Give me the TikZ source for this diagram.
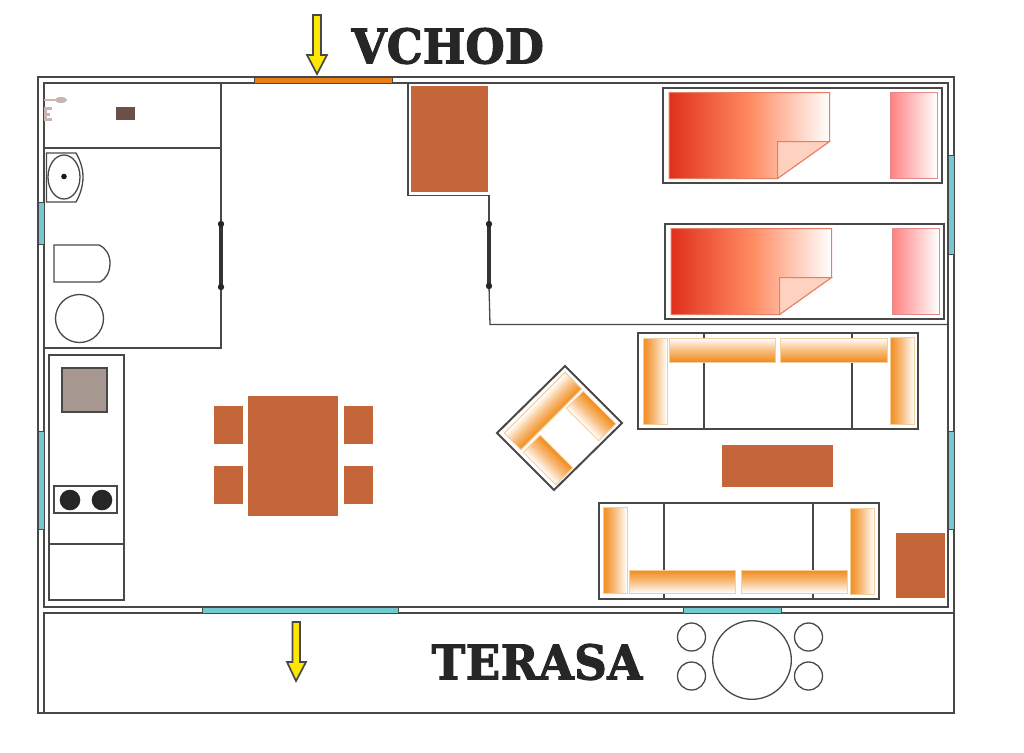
\documentclass[tikz,border=0pt]{standalone}
\usepackage{fontspec}
\newfontfamily\slabfont[FakeBold=2.2, FakeStretch=0.945]{DejaVu Serif}
\definecolor{wallgrey}{HTML}{484848}
\definecolor{woodbrown}{HTML}{C46639}
\definecolor{glasscyan}{HTML}{72C9CF}
\definecolor{padorange}{HTML}{F28A1A}
\definecolor{padedge}{HTML}{F3CFA0}
\definecolor{quiltred}{HTML}{E0301C}
\definecolor{quiltmid}{HTML}{FF8A60}
\definecolor{foldpeach}{HTML}{FFD2BF}
\definecolor{doorsill}{HTML}{E67E14}
\definecolor{sinktone}{HTML}{A69891}
\definecolor{tapstone}{HTML}{C9B5B0}
\definecolor{shelfbrown}{HTML}{6B5048}
\tikzset{
	wall/.style={draw=wallgrey, line width=0.2mm},
	thinwall/.style={draw=wallgrey, line width=0.13mm},
	glass/.style={draw=wallgrey, line width=0.1mm, fill=glasscyan},
	wood/.style={fill=woodbrown},
	pad/.style={draw=padedge, line width=0.1mm},
	armpad/.style={pad, left color=padorange, right color=white, middle color=padorange!55!white},
	seatpadup/.style={pad, top color=white, bottom color=padorange, middle color=padorange!55!white},
	seatpaddown/.style={pad, top color=padorange, bottom color=white, middle color=padorange!55!white},
	quilt/.style={draw=red!45!brown!70, line width=0.1mm, left color=quiltred, right color=white, middle color=quiltmid},
	pillow/.style={draw=red!40!white!90!black, line width=0.1mm, left color=red!50!white, right color=white},
	guidearrow/.style={draw=wallgrey, line width=0.17mm, fill=yellow!90!orange},
	roomlabel/.style={text=black!85, font=\slabfont\bfseries\fontsize{13.6}{15}\selectfont, inner sep=0pt, anchor=west}
}
\def\bedunit(#1,#2){
	\draw[wall] (#1-6, #2-4.5) rectangle (#1+273, #2+90.5);
	\draw[quilt] (#1, #2) -- (#1+160.5, #2) -- (#1+160.5, #2+49) -- (#1+108.5, #2+86) -- (#1, #2+86) -- cycle;
	\draw[draw=red!45!brown!70, line width=0.1mm, fill=foldpeach] (#1+108.5, #2+49) -- (#1+160.5, #2+49) -- (#1+108.5, #2+86) -- cycle;
	\draw[pillow] (#1+221, #2) rectangle (#1+268, #2+86);
}
\def\chairpad[#1](#2,#3)(#4,#5)(#6){\draw[#1, transform canvas={rotate around={#6:(#2,#3)}}] (#2-#4/2, #3-#5/2) rectangle (#2+#4/2, #3+#5/2);}
\begin{document}
\begin{tikzpicture}[x=0.1mm, y=-0.1mm]
	%%%%% START %%%%%
	\useasboundingbox (0, 0) rectangle (1024, 752);

	\draw[wall, line width=0.22mm] (38, 77) rectangle (954, 713);
	\draw[wall] (44, 83) rectangle (948, 607);
	\draw[wall] (44, 613) rectangle (954, 713);

	\draw[wall, line width=0.1mm, fill=doorsill] (254, 77) rectangle (392, 83);
	\draw[glass] (38, 202) rectangle (44, 244);
	\draw[glass] (38, 431) rectangle (44, 529);
	\draw[glass] (948, 155) rectangle (954, 254);
	\draw[glass] (948, 431) rectangle (954, 529);
	\draw[glass] (202, 607) rectangle (398, 613);
	\draw[glass] (683, 607) rectangle (781, 613);

	\draw[wall] (221, 83) -- (221, 348) -- (44, 348);
	\draw[wall] (44, 148) -- (221, 148);
	\draw[line width=0.4mm, color=black!80] (221, 224) -- (221, 287);
	\fill[black!85] (221, 224) circle (3.2);
	\fill[black!85] (221, 287) circle (3.2);

	\draw[line width=0.2mm, color=tapstone] (44, 100) -- (56, 100);
	\fill[tapstone] (61, 100) ellipse (6 and 3);
	\fill[tapstone] (44, 107) rectangle (52, 110);
	\fill[tapstone] (44, 113) rectangle (50, 116);
	\fill[tapstone] (44, 118) rectangle (52, 121);
	\fill[tapstone] (44, 107) rectangle (47, 121);
	\fill[shelfbrown] (116, 107) rectangle (135, 120);

	\draw[thinwall] (46.5, 153) -- (76, 153) .. controls (80, 160) and (83, 168) .. (83, 177) .. controls (83, 186) and (80, 195) .. (76, 202) -- (46.5, 202) -- cycle;
	\draw[thinwall] (64, 177) ellipse (16 and 22);
	\fill[black!90] (64, 176.5) circle (2.8);
	\draw[thinwall] (54, 245) -- (99, 245) .. controls (106, 248) and (110, 255) .. (110, 263) .. controls (110, 272) and (106, 279) .. (100, 282) -- (54, 282) -- cycle;
	\draw[thinwall] (79.5, 318.5) circle (24);

	\draw[wall] (49, 355) rectangle (124, 600);
	\draw[thinwall] (49, 544) -- (124, 544);
	\draw[wall, fill=sinktone] (62, 368) rectangle (107, 412);
	\draw[thinwall] (54, 486) rectangle (117, 513);
	\fill[black!85] (70, 500) circle (10.3);
	\fill[black!85] (102, 500) circle (10.3);

	\fill[wood] (248, 396) rectangle (338, 516);
	\fill[wood] (214, 406) rectangle (243, 444);
	\fill[wood] (214, 466) rectangle (243, 504);
	\fill[wood] (344, 406) rectangle (373, 444);
	\fill[wood] (344, 466) rectangle (373, 504);

	\fill[wood] (411, 86) rectangle (488, 192);
	\draw[thinwall] (408, 83) -- (408, 195.5) -- (489, 195.5) -- (489, 224);
	\draw[thinwall] (489, 286) -- (490, 324.5) -- (948, 324.5);
	\draw[line width=0.4mm, color=black!80] (489, 224) -- (489, 286);
	\fill[black!85] (489, 224) circle (3.2);
	\fill[black!85] (489, 286) circle (3.2);

	\bedunit(669, 92.5)
	\bedunit(671, 228.5)

	\draw[wall] (638, 333) rectangle (918, 429);
	\draw[wall] (704, 333) -- (704, 429);
	\draw[wall] (852, 333) -- (852, 429);
	\draw[armpad] (643, 338) rectangle (667, 424);
	\draw[armpad] (890, 337) rectangle (914, 424);
	\draw[seatpadup] (669, 338) rectangle (775, 362);
	\draw[seatpadup] (780, 338) rectangle (887, 362);

	\fill[wood] (722, 445) rectangle (833, 486.5);

	\draw[wall] (599, 503) rectangle (879, 599);
	\draw[wall] (664, 503) -- (664, 599);
	\draw[wall] (813, 503) -- (813, 599);
	\draw[armpad] (603, 507) rectangle (627, 593);
	\draw[armpad] (850, 508) rectangle (874, 594);
	\draw[seatpaddown] (629, 570) rectangle (735, 593);
	\draw[seatpaddown] (741, 570) rectangle (847, 593);

	\fill[wood] (896, 533) rectangle (945, 598);

	\draw[wall] (565, 366) -- (622, 423) -- (554, 490) -- (497, 433) -- cycle;
	\chairpad[seatpadup](543, 411)(86, 23.5)(45)
	\chairpad[seatpaddown](591, 416)(46, 24)(-45)
	\chairpad[seatpaddown](548, 460)(46, 24)(-45)

	\draw[guidearrow] (313, 15) -- (321, 15) -- (321, 55) -- (327, 55) -- (317, 74) -- (307, 55) -- (313, 55) -- cycle;
	\draw[guidearrow] (292.5, 622) -- (300, 622) -- (300, 662) -- (306, 662) -- (296, 681) -- (287, 662) -- (292.5, 662) -- cycle;

	\node[roomlabel] (vchod) at (351, 46) {VCHOD};
	\node[roomlabel] (terasa) at (431, 662) {\addfontfeature{LetterSpace=1}TERASA};

	\draw[thinwall] (752, 660) circle (39.3);
	\draw[thinwall] (691.5, 637) circle (14);
	\draw[thinwall] (691.5, 676) circle (14);
	\draw[thinwall] (808.5, 637) circle (14);
	\draw[thinwall] (808.5, 676) circle (14);
	%%%%% END %%%%%
\end{tikzpicture}
\end{document}
